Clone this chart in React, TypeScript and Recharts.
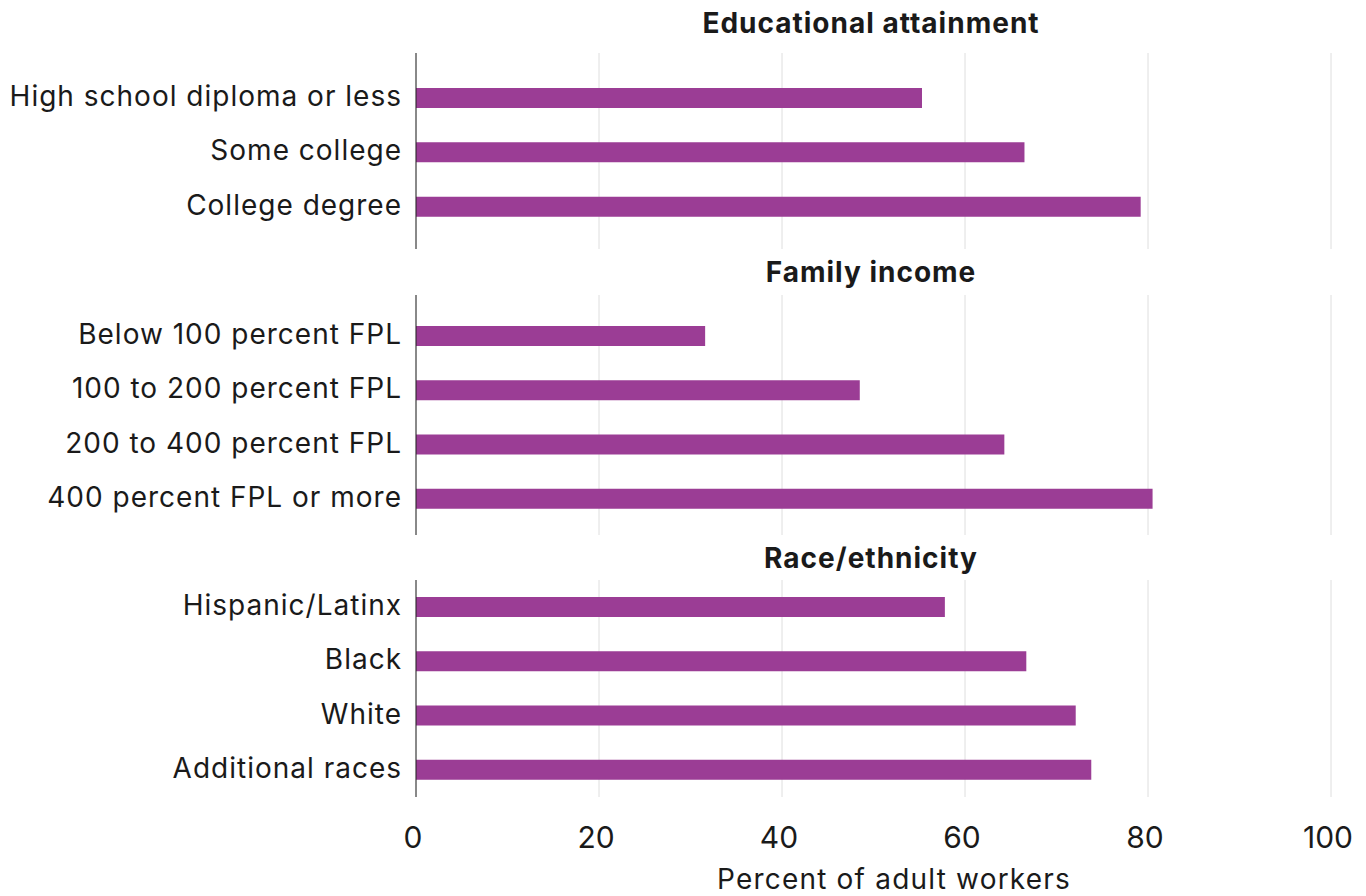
import React from 'react';
import { BarChart, Bar, XAxis, YAxis, CartesianGrid } from 'recharts';

const eduCategories = ['High school diploma or less', 'Some college', 'College degree'];
const eduValues = [55.3, 66.5, 79.2];

const incomeCategories = ['Below 100 percent FPL', '100 to 200 percent FPL', '200 to 400 percent FPL', '400 percent FPL or more'];
const incomeValues = [31.6, 48.5, 64.3, 80.5];

const raceCategories = ['Hispanic/Latinx', 'Black', 'White', 'Additional races'];
const raceValues = [57.8, 66.7, 72.1, 73.8];

const panelTitles = ['Educational attainment', 'Family income', 'Race/ethnicity'];
const xTicks = [0, 20, 40, 60, 80, 100];
const xAxisTitle = 'Percent of adult workers';

const FONT = 'Inter, "DejaVu Sans", sans-serif';
const BAR_COLOR = '#9b3d95';
const TEXT_COLOR = '#1a1a1a';

const build = (cats: string[], vals: number[]) => cats.map((c, i) => ({ name: c, value: vals[i] }));

type PanelProps = {
  data: { name: string; value: number }[];
  top: number;
  plotHeight: number;
  padTop: number;
  padBottom: number;
  showX: boolean;
};

const Panel = ({ data, top, plotHeight, padTop, padBottom, showX }: PanelProps) => {
  const xHeight = showX ? 99 : 0;
  return (
    <div style={{ position: 'absolute', left: 0, top }}>
      <BarChart
        layout="vertical"
        width={1366}
        height={plotHeight + xHeight}
        data={data}
        margin={{ top: 0, right: 35, bottom: 0, left: 0 }}
      >
        <CartesianGrid horizontal={false} stroke="#dedede" strokeWidth={1} />
        <XAxis
          type="number"
          domain={[0, 100]}
          ticks={xTicks}
          hide={!showX}
          height={xHeight}
          axisLine={false}
          tickLine={false}
          tickSize={0}
          tickMargin={30}
          tick={{ fontSize: 30, fill: TEXT_COLOR, fontFamily: FONT, dx: -3 }}
        />
        <YAxis
          type="category"
          dataKey="name"
          width={416}
          padding={{ top: padTop, bottom: padBottom }}
          axisLine={{ stroke: '#222', strokeWidth: 1 }}
          tickLine={false}
          tickSize={0}
          tickMargin={14}
          tick={{ fontSize: 28, fill: TEXT_COLOR, fontFamily: FONT, dy: -2, letterSpacing: 1 }}
          interval={0}
        />
        <Bar dataKey="value" fill={BAR_COLOR} barSize={20} isAnimationActive={false} />
      </BarChart>
    </div>
  );
};

export default function App() {
  const titleProps = {
    textAnchor: 'middle' as const,
    fontFamily: FONT,
    fontWeight: 700,
    fontSize: 28,
    fill: TEXT_COLOR,
    letterSpacing: 1,
  };
  return (
    <div style={{ position: 'absolute', left: 0, top: 0, width: 1366, height: 896, background: '#fff', overflow: 'hidden' }}>
      <Panel data={build(eduCategories, eduValues)} top={53} plotHeight={196} padTop={18} padBottom={15} showX={false} />
      <Panel data={build(incomeCategories, incomeValues)} top={295} plotHeight={240} padTop={14} padBottom={9} showX={false} />
      <Panel data={build(raceCategories, raceValues)} top={580} plotHeight={217} padTop={0} padBottom={0} showX={true} />
      <svg width={1366} height={896} style={{ position: 'absolute', left: 0, top: 0, pointerEvents: 'none' }}>
        <text x={871} y={33} {...titleProps}>{panelTitles[0]}</text>
        <text x={871} y={282} {...titleProps}>{panelTitles[1]}</text>
        <text x={871} y={568} {...titleProps}>{panelTitles[2]}</text>
        <text x={894} y={889} textAnchor="middle" fontFamily={FONT} fontSize={28} fill={TEXT_COLOR} letterSpacing={1.2}>{xAxisTitle}</text>
      </svg>
    </div>
  );
}
